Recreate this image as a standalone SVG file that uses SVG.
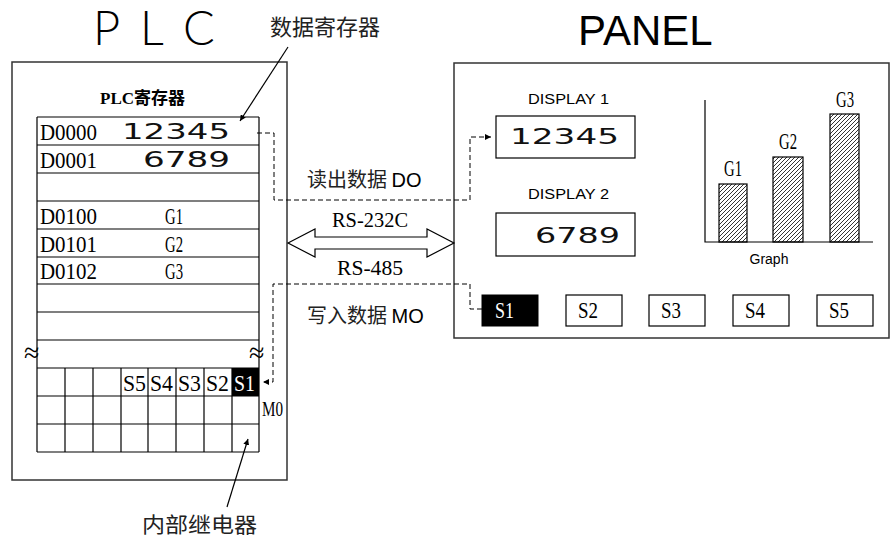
<svg xmlns="http://www.w3.org/2000/svg" width="890" height="537" viewBox="0 0 890 537">
<defs>
<style>
.box{fill:none;stroke:#333;stroke-width:1.5}
.ln{stroke:#000;stroke-width:1.2;fill:none}
.ser{font-family:"Liberation Serif","Noto Sans CJK SC",serif;fill:#000}
.wide{font-family:"DejaVu Sans","Liberation Sans",sans-serif;fill:#111}
.sans{font-family:"Liberation Sans",Arial,sans-serif;fill:#000}
.thin{font-family:"Lato","Open Sans","Liberation Sans",sans-serif;font-weight:300;fill:#000}
.cjk{font-family:"Noto Sans CJK SC",sans-serif;fill:#222}
.dash{fill:none;stroke:#000;stroke-width:1;stroke-dasharray:5 3}
.btn{fill:#fff;stroke:#000;stroke-width:1.2}
</style>
<pattern id="hatch" patternUnits="userSpaceOnUse" width="4" height="4">
<path d="M-1,1 l2,-2 M0,4 l4,-4 M3,5 l2,-2" stroke="#000" stroke-width="0.8"/>
</pattern>
<marker id="ah" viewBox="0 0 8 8" refX="8" refY="4" markerWidth="6" markerHeight="6" orient="auto" markerUnits="userSpaceOnUse">
<path d="M0,0 L8,4 L0,8 z" fill="#000"/>
</marker>
</defs>
<rect width="890" height="537" fill="#fff"/>

<g id="plc-title">
<text class="thin" x="93 140 183" y="45" font-size="47">PLC</text>
</g>
<g id="panel-title">
<text class="sans" x="578" y="45" font-size="42">PANEL</text>
</g>

<g id="plc">
<rect class="box" x="12" y="62" width="275" height="418"/>
<text class="ser" x="100" y="104" font-size="17" font-weight="bold">PLC寄存器</text>
<g class="ln">
<path d="M37,117 V452 M259,117 V452"/>
<path d="M37,117 H259 M37,145 H259 M37,173 H259 M37,201 H259 M37,229 H259 M37,257 H259 M37,284 H259 M37,312 H259 M37,340 H259"/>
<path d="M37,368 H259 M37,396 H259 M37,424 H259 M37,452 H259"/>
<path d="M65,368 V452 M93,368 V452 M121,368 V452 M148,368 V452 M176,368 V452 M204,368 V452 M232,368 V452"/>
</g>
<text class="ser" x="40" y="140" font-size="23" textLength="57" lengthAdjust="spacingAndGlyphs">D0000</text>
<text class="ser" x="40" y="168" font-size="23" textLength="57" lengthAdjust="spacingAndGlyphs">D0001</text>
<text class="ser" x="40" y="224" font-size="23" textLength="57" lengthAdjust="spacingAndGlyphs">D0100</text>
<text class="ser" x="40" y="252" font-size="23" textLength="57" lengthAdjust="spacingAndGlyphs">D0101</text>
<text class="ser" x="40" y="279" font-size="23" textLength="57" lengthAdjust="spacingAndGlyphs">D0102</text>
<text class="wide" x="122" y="139" font-size="22" textLength="108" lengthAdjust="spacingAndGlyphs">12345</text>
<text class="wide" x="143" y="167" font-size="22" textLength="87" lengthAdjust="spacingAndGlyphs">6789</text>
<text class="ser" x="165" y="224" font-size="23" textLength="18" lengthAdjust="spacingAndGlyphs">G1</text>
<text class="ser" x="165" y="252" font-size="23" textLength="18" lengthAdjust="spacingAndGlyphs">G2</text>
<text class="ser" x="165" y="279" font-size="23" textLength="18" lengthAdjust="spacingAndGlyphs">G3</text>
<text class="ser" x="24" y="362" font-size="28">≈</text>
<text class="ser" x="249" y="362" font-size="28">≈</text>
<rect x="232" y="368" width="27" height="28" fill="#000"/>
<text class="ser" x="123" y="391" font-size="23" textLength="23" lengthAdjust="spacingAndGlyphs">S5</text>
<text class="ser" x="150" y="391" font-size="23" textLength="23" lengthAdjust="spacingAndGlyphs">S4</text>
<text class="ser" x="178" y="391" font-size="23" textLength="23" lengthAdjust="spacingAndGlyphs">S3</text>
<text class="ser" x="206" y="391" font-size="23" textLength="23" lengthAdjust="spacingAndGlyphs">S2</text>
<text class="ser" x="234" y="391" font-size="23" textLength="21" lengthAdjust="spacingAndGlyphs" style="fill:#fff">S1</text>
<text class="ser" x="262" y="416" font-size="20" textLength="21" lengthAdjust="spacingAndGlyphs">M0</text>
</g>

<g id="panel">
<rect class="box" x="454" y="63" width="435" height="275"/>
<text class="sans" x="528" y="104" font-size="15" textLength="81" lengthAdjust="spacingAndGlyphs">DISPLAY 1</text>
<rect class="btn" x="496" y="116" width="139" height="42"/>
<text class="wide" x="510" y="144" font-size="22" textLength="109" lengthAdjust="spacingAndGlyphs">12345</text>
<text class="sans" x="528" y="199" font-size="15" textLength="81" lengthAdjust="spacingAndGlyphs">DISPLAY 2</text>
<rect class="btn" x="496" y="213" width="139" height="43"/>
<text class="wide" x="535" y="243" font-size="22" textLength="85" lengthAdjust="spacingAndGlyphs">6789</text>
<g id="graph">
<path class="ln" d="M705,100 V242 H873"/>
<rect x="719" y="184" width="28" height="58" fill="url(#hatch)" stroke="#000" stroke-width="1.2"/>
<rect x="773" y="157" width="30" height="85" fill="url(#hatch)" stroke="#000" stroke-width="1.2"/>
<rect x="830" y="114" width="29" height="128" fill="url(#hatch)" stroke="#000" stroke-width="1.2"/>
<text class="ser" x="724" y="176" font-size="23" textLength="18" lengthAdjust="spacingAndGlyphs">G1</text>
<text class="ser" x="779" y="149" font-size="23" textLength="18" lengthAdjust="spacingAndGlyphs">G2</text>
<text class="ser" x="836" y="107" font-size="23" textLength="18" lengthAdjust="spacingAndGlyphs">G3</text>
<text class="sans" x="769" y="264" font-size="14" text-anchor="middle">Graph</text>
</g>
<g id="buttons">
<rect x="482" y="295" width="56" height="31" fill="#000" stroke="#000"/>
<text class="ser" x="495" y="318" font-size="23" textLength="19" lengthAdjust="spacingAndGlyphs" style="fill:#fff">S1</text>
<rect class="btn" x="566" y="295" width="56" height="31"/>
<text class="ser" x="578" y="318" font-size="23" textLength="20" lengthAdjust="spacingAndGlyphs">S2</text>
<rect class="btn" x="649" y="295" width="56" height="31"/>
<text class="ser" x="661" y="318" font-size="23" textLength="20" lengthAdjust="spacingAndGlyphs">S3</text>
<rect class="btn" x="733" y="295" width="56" height="31"/>
<text class="ser" x="745" y="318" font-size="23" textLength="20" lengthAdjust="spacingAndGlyphs">S4</text>
<rect class="btn" x="817" y="295" width="56" height="31"/>
<text class="ser" x="829" y="318" font-size="23" textLength="20" lengthAdjust="spacingAndGlyphs">S5</text>
</g>
</g>

<g id="labels">
<text class="cjk" x="270" y="35" font-size="22">数据寄存器</text>
<text class="cjk" x="142" y="532" font-size="21" textLength="115" lengthAdjust="spacingAndGlyphs">内部继电器</text>
<text class="cjk" x="307" y="187" font-size="20">读出数据 <tspan class="sans">DO</tspan></text>
<text class="cjk" x="307" y="323" font-size="20">写入数据 <tspan class="sans">MO</tspan></text>
<text class="ser" x="332" y="227" font-size="22" textLength="76" lengthAdjust="spacingAndGlyphs">RS-232C</text>
<text class="ser" x="337" y="275" font-size="22" textLength="66" lengthAdjust="spacingAndGlyphs">RS-485</text>
</g>

<g id="connectors">
<path class="ln" d="M288,47 L240,121" marker-end="url(#ah)" stroke-width="1"/>
<path class="ln" d="M227,507 L248,439" marker-end="url(#ah)" stroke-width="1"/>
<path class="dash" d="M257,133 H274 V200 H470 V137 H491" marker-end="url(#ah)"/>
<path class="dash" d="M482,309 H470 V284 H273 V382 H263" marker-end="url(#ah)"/>
<polygon points="288,243 315,229 315,237 427,237 427,229 454,243 427,257 427,249 315,249 315,257" fill="#fff" stroke="#000" stroke-width="1.2"/>
</g>
</svg>
